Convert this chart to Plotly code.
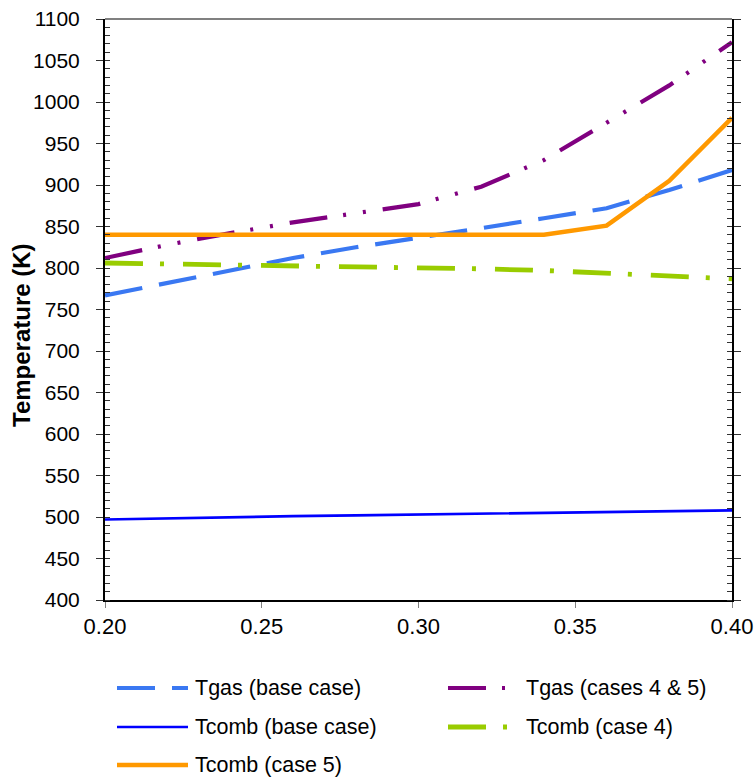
import plotly.graph_objects as go

# Equivalence ratio sampled every 0.02
phi = [0.20, 0.22, 0.24, 0.26, 0.28, 0.30, 0.32, 0.34, 0.36, 0.38, 0.40]

tgas_base = [767, 782, 798, 812, 825, 836, 848, 860, 872, 894, 918]
tgas_case45 = [812, 828, 842, 855, 866, 877, 898, 930, 975, 1020, 1072]
tcomb_base = [497, 498.5, 500, 501, 502, 503, 504, 505, 506, 507, 508]
tcomb_case4 = [806, 805, 804, 803, 802, 801, 799, 797, 794, 790, 787]
tcomb_case5 = [840, 840, 840, 840, 840, 840, 840, 840, 851, 905, 981]

x_ticks = [0.20, 0.25, 0.30, 0.35, 0.40]

FONT = "Liberation Sans, Arial, sans-serif"

series = [
    dict(name="Tgas (base case)", y=tgas_base, color="#3A78F2", width=4.2, dash="38px,17px"),
    dict(name="Tgas (cases 4 & 5)", y=tgas_case45, color="#800080", width=4.2,
         dash="38px,16px,3px,17px,3px,17px"),
    dict(name="Tcomb (base case)", y=tcomb_base, color="#0000FF", width=2.6, dash="solid"),
    dict(name="Tcomb (case 4)", y=tcomb_case4, color="#99CC00", width=4.8,
         dash="38px,17px,4px,19px"),
    dict(name="Tcomb (case 5)", y=tcomb_case5, color="#FF9900", width=4.5, dash="solid"),
]

fig = go.Figure()
for s in series:
    fig.add_trace(go.Scatter(
        x=phi, y=s["y"], mode="lines", name=s["name"],
        line=dict(color=s["color"], width=s["width"], dash=s["dash"]),
        showlegend=False,
    ))

# Plot area geometry (pixels) used to place the legend below the axes
W, H = 755, 778
ML, MR, MT, MB = 105, 23, 19, 178
PW, PH = W - ML - MR, H - MT - MB


def px_x(px):
    return (px - ML) / PW


def px_y(py):
    return (H - MB - py) / PH


# Legend laid out in two columns beneath the plot
legend_slots = [
    (0, 117, 688), (1, 448, 688),
    (2, 117, 727), (3, 448, 727),
    (4, 117, 765),
]
shapes = []
annotations = []
for idx, x0, yrow in legend_slots:
    s = series[idx]
    shapes.append(dict(
        type="line", xref="paper", yref="paper",
        x0=px_x(x0), x1=px_x(x0 + 71), y0=px_y(yrow), y1=px_y(yrow),
        line=dict(color=s["color"], width=s["width"], dash=s["dash"]),
    ))
    annotations.append(dict(
        xref="paper", yref="paper", x=px_x(x0 + 76), y=px_y(yrow),
        text=s["name"], showarrow=False, xanchor="left", yanchor="middle",
        font=dict(family=FONT, size=21.5, color="#000000"),
    ))

# Grey frame line along the top of the plot area
shapes.append(dict(
    type="line", xref="paper", yref="paper", x0=0, x1=1, y0=1, y1=1,
    line=dict(color="#808080", width=2),
))

# Vertical axis title
annotations.append(dict(
    xref="paper", yref="paper", x=px_x(22), y=px_y(335),
    text="<b>Temperature (K)</b>", showarrow=False, textangle=-90,
    xanchor="center", yanchor="middle",
    font=dict(family=FONT, size=24, color="#000000"),
))

fig.update_layout(
    width=W, height=H,
    margin=dict(l=ML, r=MR, t=MT, b=MB, autoexpand=False),
    paper_bgcolor="white", plot_bgcolor="white",
    shapes=shapes, annotations=annotations,
    showlegend=False,
)

fig.update_xaxes(
    range=[0.20, 0.40], tickvals=x_ticks, ticktext=[f"{v:.2f}" for v in x_ticks],
    showgrid=False, zeroline=False, automargin=False,
    showline=True, linecolor="#000000", linewidth=2,
    ticks="outside", ticklen=6, tickcolor="#808080", tickwidth=1,
    tickfont=dict(family=FONT, size=22, color="#000000"),
)

fig.update_yaxes(
    range=[400, 1100], tick0=400, dtick=50,
    showgrid=False, zeroline=False, automargin=False,
    showline=True, linecolor="#000000", linewidth=2, mirror="allticks",
    ticks="outside", ticklen=7, tickcolor="#333333", tickwidth=1,
    ticklabelstandoff=12,
    tickfont=dict(family=FONT, size=21, color="#000000"),
    minor=dict(dtick=10, ticks="inside", ticklen=5, tickcolor="#333333", tickwidth=1),
)

fig.write_html("out.html")
